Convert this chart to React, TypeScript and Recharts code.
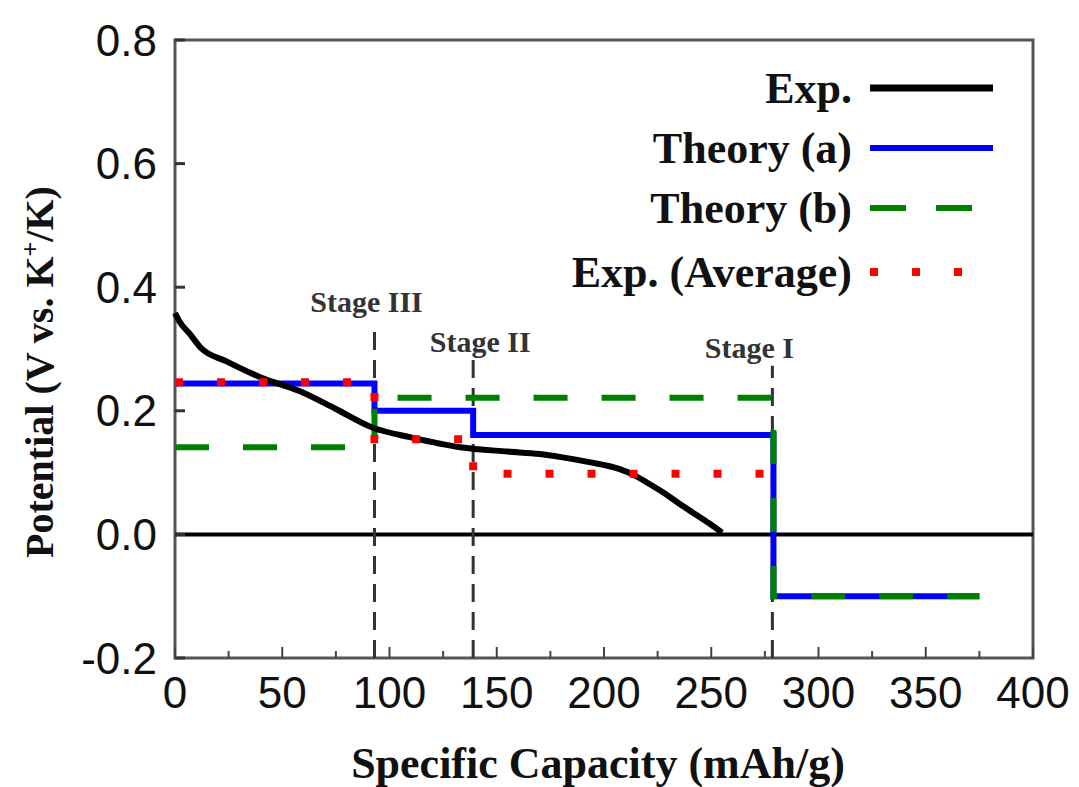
import { LineChart, Line, XAxis, YAxis, ReferenceLine, ReferenceArea, Legend } from 'recharts';

const expCapacity = [0, 2, 7, 12, 24, 40, 58, 75, 92, 110, 133, 155, 170, 180, 193, 207, 214, 221, 228, 235, 242, 249, 255];
const expPotential = [0.358, 0.345, 0.324, 0.302, 0.28, 0.254, 0.232, 0.203, 0.173, 0.157, 0.141, 0.134, 0.13, 0.125, 0.117, 0.106, 0.096, 0.082, 0.067, 0.05, 0.034, 0.018, 0.003];

// Step series: value holds from this capacity until the next one
const theoryACapacity = [0, 93, 139, 279, 375];
const theoryAPotential = [0.244, 0.2, 0.161, -0.1, -0.1];

const theoryBCapacity = [0, 93, 279, 375];
const theoryBPotential = [0.141, 0.221, -0.1, -0.1];

const avgCapacity = [0, 93, 139, 279];
const avgPotential = [0.246, 0.154, 0.098, 0.098];

const stageNames = ['Stage III', 'Stage II', 'Stage I'];
const stageCapacity = [93, 139, 278.5];
const stageTop = [0.342, 0.289, 0.273];

const xTicks = [0, 25, 50, 75, 100, 125, 150, 175, 200, 225, 250, 275, 300, 325, 350, 375, 400];
const yTicks = [-0.2, 0, 0.2, 0.4, 0.6, 0.8];

const toPoints = (xs: number[], ys: number[]) => xs.map((x, i) => ({ x, y: ys[i] }));

const expData = toPoints(expCapacity, expPotential);
const theoryAData = toPoints(theoryACapacity, theoryAPotential);
const theoryBData = toPoints(theoryBCapacity, theoryBPotential);
const avgData = toPoints(avgCapacity, avgPotential);

const SERIF = '"Liberation Serif", "Times New Roman", serif';
const SANS = '"Liberation Sans", Arial, sans-serif';

const legendRows = [
  { name: 'Exp.', color: '#000000', width: 7, dash: undefined as string | undefined },
  { name: 'Theory (a)', color: '#0000ff', width: 6, dash: undefined },
  { name: 'Theory (b)', color: '#008000', width: 6, dash: '36 30' },
  { name: 'Exp. (Average)', color: '#ff0000', width: 8, dash: '8 34' },
];

const XTick = (props: any) => {
  const { x, y, payload } = props;
  const major = payload.value % 50 === 0;
  return (
    <g>
      <line x1={x} y1={y} x2={x} y2={y - (major ? 11 : 7)} stroke="#444" strokeWidth={2} />
      {major && (
        <text x={x} y={y + 34} textAnchor="middle" dominantBaseline="central" fontFamily={SANS} fontSize={44} fill="#111">
          {payload.value}
        </text>
      )}
    </g>
  );
};

const YTick = (props: any) => {
  const { x, y, payload } = props;
  return (
    <g>
      <line x1={x} y1={y} x2={x + 10} y2={y} stroke="#333" strokeWidth={3} />
      <text x={x - 18} y={y} textAnchor="end" dominantBaseline="central" fontFamily={SANS} fontSize={44} fill="#111">
        {Number(payload.value).toFixed(1)}
      </text>
    </g>
  );
};

const StageLabel = (props: any) => {
  const { viewBox, text, dx, dy } = props;
  return (
    <text x={viewBox.x + dx} y={viewBox.y + dy} textAnchor="middle" dominantBaseline="central" fontFamily={SERIF} fontWeight="bold" fontSize={30} fill="#333">
      {text}
    </text>
  );
};

const stageOffsets = [
  { dx: -8, dy: -22 },
  { dx: 7, dy: -14 },
  { dx: -23, dy: -18 },
];

const LegendBox = () => (
  <svg width={460} height={250}>
    {legendRows.map((r, i) => {
      const cy = [33, 93, 153, 217][i];
      return (
        <g key={r.name}>
          <text x={292} y={cy} textAnchor="end" dominantBaseline="central" fontFamily={SERIF} fontWeight="bold" fontSize={44} fill="#111">
            {r.name}
          </text>
          <line x1={310} y1={cy} x2={433} y2={cy} stroke={r.color} strokeWidth={r.width} strokeDasharray={r.dash} />
        </g>
      );
    })}
  </svg>
);

export default function App() {
  return (
    <div style={{ position: 'absolute', left: 0, top: 0, width: 1079, height: 787, background: '#fff', overflow: 'hidden' }}>
      <LineChart width={1079} height={787} margin={{ top: 40, right: 46, bottom: 128, left: 115 }}>
        <XAxis
          dataKey="x"
          type="number"
          domain={[0, 400]}
          ticks={xTicks}
          interval={0}
          height={1}
          axisLine={false}
          tickLine={false}
          tickSize={0}
          tickMargin={0}
          tick={XTick}
          allowDuplicatedCategory={false}
        />
        <YAxis
          type="number"
          domain={[-0.2, 0.8]}
          ticks={yTicks}
          interval={0}
          width={60}
          axisLine={false}
          tickLine={false}
          tickSize={0}
          tickMargin={0}
          tick={YTick}
        />
        <ReferenceArea x1={0} x2={400} y1={-0.2} y2={0.8} fill="none" stroke="#555" strokeWidth={3} ifOverflow="visible" />
        <ReferenceLine y={0} stroke="#000" strokeWidth={4} />
        {stageCapacity.map((c, i) => (
          <ReferenceLine
            key={stageNames[i]}
            segment={[{ x: c, y: -0.2 }, { x: c, y: stageTop[i] }]}
            stroke="#333"
            strokeWidth={3}
            strokeDasharray="18 10"
            label={<StageLabel text={stageNames[i]} dx={stageOffsets[i].dx} dy={stageOffsets[i].dy} />}
          />
        ))}
        <Line data={theoryAData} dataKey="y" name="Theory (a)" type="stepAfter" stroke="#0000ff" strokeWidth={6} dot={false} isAnimationActive={false} />
        <Line data={theoryBData} dataKey="y" name="Theory (b)" type="stepAfter" stroke="#008000" strokeWidth={6} strokeDasharray="34 34" dot={false} isAnimationActive={false} />
        <Line data={expData} dataKey="y" name="Exp." type="monotone" stroke="#000" strokeWidth={6} dot={false} isAnimationActive={false} />
        <Line data={avgData} dataKey="y" name="Exp. (Average)" type="stepAfter" stroke="#ff0000" strokeWidth={8} strokeDasharray="8 34" dot={false} isAnimationActive={false} />
        <Legend
          layout="horizontal"
          verticalAlign="middle"
          align="center"
          content={LegendBox}
          wrapperStyle={{ left: 560, top: 55, width: 460, height: 250 }}
        />
      </LineChart>
      <div
        style={{
          position: 'absolute',
          left: 40,
          top: 372,
          transform: 'translate(-50%, -50%) rotate(-90deg)',
          whiteSpace: 'nowrap',
          fontFamily: SERIF,
          fontWeight: 'bold',
          fontSize: 40,
          lineHeight: 1,
          color: '#111',
        }}
      >
        Potential (V vs. K<sup style={{ fontSize: 26, lineHeight: 0 }}>+</sup>/K)
      </div>
      <div
        style={{
          position: 'absolute',
          left: 598,
          top: 764,
          transform: 'translate(-50%, -50%)',
          whiteSpace: 'nowrap',
          fontFamily: SERIF,
          fontWeight: 'bold',
          fontSize: 44,
          lineHeight: 1,
          color: '#111',
        }}
      >
        Specific Capacity (mAh/g)
      </div>
    </div>
  );
}
